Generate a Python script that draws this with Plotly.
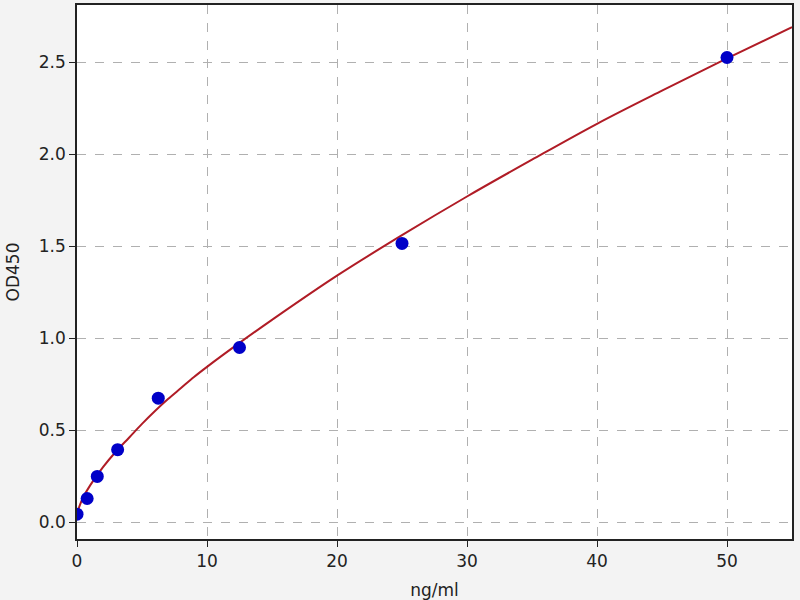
import plotly.graph_objects as go

# standard points (concentration, OD)
conc = [0, 0.78, 1.56, 3.125, 6.25, 12.5, 25, 50]
od = [0.045, 0.13, 0.25, 0.395, 0.675, 0.95, 1.515, 2.525]

# fitted curve
fit_x = [0, 0.25, 0.5, 1, 2, 3, 4, 5, 6, 7, 8, 9, 10, 12.5, 15, 20, 25, 30, 35, 40, 45, 50, 55]
fit_y = [0.05, 0.10, 0.14, 0.20, 0.30, 0.385, 0.46, 0.535, 0.605, 0.67, 0.73, 0.79, 0.845,
         0.975, 1.10, 1.34, 1.56, 1.77, 1.97, 2.165, 2.345, 2.52, 2.69]

x_ticks = [0, 10, 20, 30, 40, 50]
y_ticks = [0.0, 0.5, 1.0, 1.5, 2.0, 2.5]

fig = go.Figure()
fig.add_trace(go.Scatter(
    x=fit_x, y=fit_y, mode='lines', line=dict(color='#b01c26', width=2, shape='spline'),
    showlegend=False,
))
fig.add_trace(go.Scatter(
    x=conc, y=od, mode='markers', marker=dict(color='#0000c8', size=13),
    showlegend=False,
))

axis_font = dict(family='DejaVu Sans', size=17, color='#222222')
grid = dict(showgrid=True, gridcolor='#b0b0b0', griddash='dash', gridwidth=1,
            showline=True, linecolor='#222222', linewidth=1.5, mirror=True,
            ticks='outside', ticklen=6, tickcolor='#222222', tickfont=axis_font,
            zeroline=False)

fig.update_xaxes(range=[0, 55], tickvals=x_ticks, ticktext=[str(v) for v in x_ticks],
                 title=dict(text='ng/ml', font=axis_font, standoff=14), **grid)
fig.update_yaxes(range=[-0.09, 2.81], tickvals=y_ticks, ticktext=[f'{v:.1f}' for v in y_ticks],
                 title=dict(text='OD450', font=axis_font, standoff=15), **grid)

fig.update_layout(
    width=800, height=600,
    margin=dict(l=77, r=8, t=3, b=61),
    paper_bgcolor='#f3f3f3', plot_bgcolor='white',
    font=axis_font,
)

# drop the default body margin so the figure sits at the window corner
fig.write_html("out.html", config={'displayModeBar': False},
               post_script="document.body.style.margin='0';")
